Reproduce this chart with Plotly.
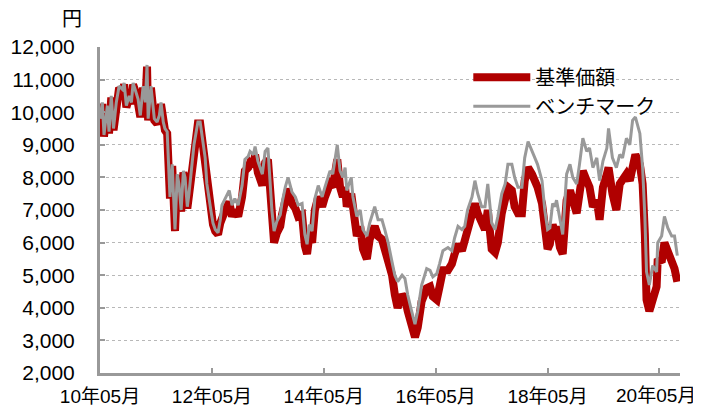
import pandas as pd
import plotly.graph_objects as go

# decimal-year positions of the readings
dates_dec = [
    2010.33, 2010.37, 2010.40, 2010.46, 2010.49, 2010.53, 2010.57, 2010.62, 2010.67, 2010.73,
    2010.76, 2010.80, 2010.85, 2010.89, 2010.92, 2010.98, 2011.01, 2011.05, 2011.10, 2011.14,
    2011.17, 2011.19, 2011.24, 2011.30, 2011.35, 2011.39, 2011.42, 2011.46, 2011.49, 2011.53,
    2011.55, 2011.58, 2011.62, 2011.67, 2011.71, 2011.74, 2011.78, 2011.82, 2011.85, 2011.89,
    2011.92, 2011.96, 2012.01, 2012.05, 2012.08, 2012.12, 2012.16, 2012.21, 2012.24, 2012.28,
    2012.32, 2012.35, 2012.39, 2012.44, 2012.48,
    2012.51, 2012.57, 2012.60, 2012.64, 2012.69, 2012.74, 2012.80, 2012.87, 2012.92, 2012.98,
    2013.01, 2013.07, 2013.10, 2013.15, 2013.23, 2013.28, 2013.33, 2013.37, 2013.40, 2013.44,
    2013.49, 2013.55, 2013.58, 2013.64, 2013.69, 2013.76, 2013.82, 2013.87, 2013.94, 2013.99,
    2014.03, 2014.07, 2014.12, 2014.17, 2014.23,
    2014.26, 2014.30, 2014.35, 2014.39, 2014.44, 2014.49, 2014.53, 2014.57, 2014.62, 2014.67,
    2014.71, 2014.74, 2014.82, 2014.85, 2014.92, 2014.98, 2015.03, 2015.10, 2015.15, 2015.24,
    2015.30, 2015.37, 2015.42, 2015.48, 2015.55, 2015.60, 2015.65, 2015.73, 2015.78, 2015.83,
    2015.90, 2015.96, 2016.01, 2016.08, 2016.17, 2016.23, 2016.28, 2016.35, 2016.40, 2016.46,
    2016.55, 2016.62, 2016.67, 2016.73, 2016.80, 2016.85, 2016.90, 2016.98, 2017.03, 2017.08,
    2017.15, 2017.21, 2017.26, 2017.33, 2017.39, 2017.44, 2017.51, 2017.57, 2017.62, 2017.69,
    2017.74, 2017.80, 2017.87, 2017.92, 2017.98, 2018.05, 2018.10, 2018.15, 2018.23, 2018.28,
    2018.33, 2018.37, 2018.42, 2018.46, 2018.49, 2018.55, 2018.60, 2018.67, 2018.73, 2018.78,
    2018.85, 2018.90, 2018.96, 2019.03, 2019.08, 2019.14, 2019.21, 2019.26, 2019.32, 2019.39,
    2019.42, 2019.49, 2019.56, 2019.62, 2019.67, 2019.74, 2019.80, 2019.85, 2019.90, 2019.98,
    2020.03, 2020.07, 2020.10, 2020.15, 2020.21, 2020.28, 2020.30, 2020.37, 2020.42, 2020.48,
    2020.55, 2020.60, 2020.65,
]

benchmark = [
    9800, 10300, 9300, 10200, 9400, 10500, 9500, 10300, 10800, 10700,
    10900, 10200, 10500, 10300, 10900, 10600, 10400, 9900, 10800, 10300,
    11450, 9800, 10800, 9800, 9700, 9900, 10300, 9700, 9500, 9400,
    8600, 7400, 8400, 6400, 8100, 7800, 7000, 8200, 8000, 7100,
    7500, 8200, 9000, 9400, 9700, 9700, 9200, 8600, 7800, 7300,
    6900, 6600, 6400, 6300, 6700,
    7150, 7350, 7450, 7600, 7150, 7350, 7150, 7750, 8550, 8650,
    8800, 8700, 8950, 8500, 8100, 8800, 8900, 7900, 7000, 6350,
    6650, 6850, 7200, 7700, 8000, 7550, 7400, 7150, 7200, 6250,
    5950, 6550, 6350, 7350, 7750,
    7600, 7400, 7700, 7900, 8200, 8100, 8500, 9000, 8200, 8000,
    8300, 7600, 8000, 7400, 6800, 7000, 6400, 6200, 6600, 7100,
    6700, 6700, 6400, 6000, 5400, 5000, 4800, 5000, 4900, 4400,
    3900, 3500, 3900, 4700, 5200, 5150, 4950, 5050, 5350, 5750,
    5850, 5750, 6150, 6500, 6400, 6500, 7000, 7400, 7900, 7500,
    7100, 7100, 7800, 6600, 6400, 6800, 7500, 7800, 8400, 8400,
    8000, 7700, 7700, 8600, 9100, 8800, 8600, 8400, 7900, 7000,
    6400, 6450, 7200, 7100, 7300, 6700, 6250, 8100, 8400, 8000,
    7800, 8400, 9200, 8800, 8900, 8300, 8600, 7900, 8500, 8900,
    9500, 8600, 8300, 8700, 8600, 9200, 9000, 9750, 9850, 9350,
    8300, 6800, 5100, 4700, 5300, 5100, 6000, 6200, 6800, 6450,
    6200, 6200, 5600,
]

fund_nav = [
    9750, 10250, 9250, 10150, 9350, 10450, 9450, 10250, 10750, 10650,
    10850, 10150, 10450, 10250, 10850, 10550, 10350, 9850, 10750, 10250,
    11400, 9750, 10750, 9750, 9650, 9850, 10250, 9650, 9450, 9350,
    8550, 7350, 8350, 6350, 8050, 7750, 6950, 8150, 7950, 7050,
    7450, 8150, 8950, 9350, 9650, 9650, 9150, 8550, 7750, 7250,
    6850, 6550, 6350, 6250, 6600,
    6800, 7000, 7100, 7250, 6800, 7000, 6800, 7400, 8200, 8300,
    8450, 8350, 8700, 8150, 7750, 8450, 8550, 7550, 6650, 6000,
    6300, 6500, 6850, 7350, 7650, 7200, 7050, 6800, 6850, 5900,
    5650, 6200, 6000, 7000, 7400,
    7300, 7100, 7400, 7600, 7800, 7700, 8100, 8550, 7700, 7400,
    7700, 7100, 7500, 6900, 6200, 6500, 5800, 5500, 6100, 6500,
    6200, 6100, 5800, 5400, 5000, 4400, 4000, 4400, 4300, 3900,
    3400, 3100, 3400, 4200, 4600, 4650, 4350, 4250, 4650, 5150,
    5150, 5350, 5650, 5950, 5750, 6050, 6500, 6900, 7200, 6900,
    6600, 6400, 7000, 5800, 5700, 6000, 6900, 7400, 7700, 7600,
    7100, 6900, 6900, 7900, 8300, 8100, 7900, 7700, 7200, 6400,
    5800, 5950, 6550, 6300, 6500, 5850, 5650, 7300, 7600, 7300,
    6900, 7500, 8200, 7900, 7700, 7100, 7300, 6700, 7700, 8100,
    8300, 7500, 7000, 7800, 7900, 8100, 7900, 8500, 8700, 8400,
    7800, 6250, 4250, 3900, 4250, 4650, 5500, 5400, 6000, 5750,
    5400, 5200, 4800,
]

tick_dates = ["2010-05-01", "2012-05-01", "2014-05-01", "2016-05-01", "2018-05-01", "2020-05-01"]
tick_labels = ["10年05月", "12年05月", "14年05月", "16年05月", "18年05月", "20年05月"]
y_ticks = [2000, 3000, 4000, 5000, 6000, 7000, 8000, 9000, 10000, 11000, 12000]


def dec_to_date(t):
    y = int(t)
    return pd.Timestamp(year=y, month=1, day=1) + pd.Timedelta(days=(t - y) * 365.25)


dates = [dec_to_date(t) for t in dates_dec]

# the last label is drawn as an annotation, pulled inside the chart edge as in the original
tick_text = tick_labels[:-1] + [""]

FONT = "Liberation Sans, Arial, Noto Sans CJK JP, sans-serif"

fig = go.Figure()
fig.add_trace(go.Scatter(x=dates, y=fund_nav, mode="lines", name="基準価額",
                         line=dict(color="#B00000", width=8)))
fig.add_trace(go.Scatter(x=dates, y=benchmark, mode="lines", name="ベンチマーク",
                         line=dict(color="#999999", width=3)))

fig.update_layout(
    width=701, height=409,
    margin=dict(l=92, r=29, t=39, b=44),
    paper_bgcolor="white", plot_bgcolor="white",
    font=dict(family=FONT, size=20, color="black"),
    showlegend=True,
    legend=dict(x=0.635, y=0.967, xanchor="left", yanchor="top",
                bgcolor="rgba(0,0,0,0)", font=dict(size=20, family=FONT),
                itemwidth=57, tracegroupgap=0),
    xaxis=dict(type="date", range=["2010-05-01", "2020-09-12"],
               tickvals=tick_dates, ticktext=tick_text,
               showgrid=False, zeroline=False, automargin=False,
               ticklabeloverflow="allow", ticklabelstandoff=4,
               showline=True, linecolor="#999999", linewidth=3,
               ticks="inside", ticklen=5, tickcolor="#999999", tickwidth=2,
               tickfont=dict(size=19, family=FONT)),
    yaxis=dict(range=[2000, 12000], tickvals=y_ticks, tickformat=",d",
               showgrid=True, gridcolor="#b8b8b8", griddash="dot", gridwidth=1,
               zeroline=False, automargin=False, ticklabelstandoff=18,
               showline=True, linecolor="#999999", linewidth=3,
               ticks="inside", ticklen=5, tickcolor="#999999", tickwidth=2,
               tickfont=dict(size=21, family=FONT)),
    annotations=[
        dict(text="円", xref="paper", yref="paper", x=-0.048, y=1.085,
             xanchor="center", yanchor="middle", showarrow=False,
             font=dict(size=20, family=FONT)),
        dict(text=tick_labels[-1], xref="paper", yref="paper", x=1.031, y=-0.07,
             xanchor="right", yanchor="middle", showarrow=False,
             font=dict(size=19, family=FONT)),
    ],
)

fig.write_html("out.html")
